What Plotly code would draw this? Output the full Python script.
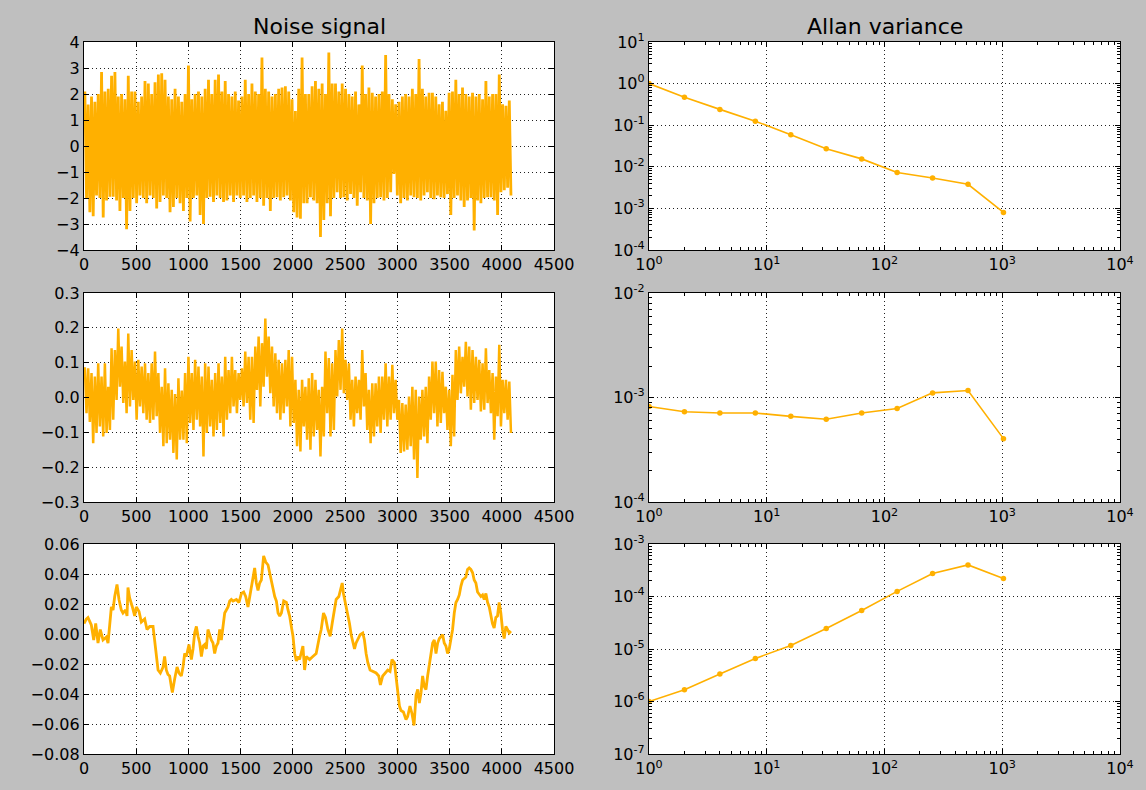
import numpy as np
import plotly.graph_objects as go

# ---------------------------------------------------------------
# Data
# ---------------------------------------------------------------
# Noise signals: per 32-sample block, the upper and lower excursion
BLOCK = 32

white_hi = [2.1, 1.6, 1.9, 1.7, 2.0, 2.85, 2.1, 2.2, 2.7, 2.85,
            1.9, 2.0, 1.8, 2.7, 2.1, 2.1, 1.7, 1.9, 2.5, 2.4,
            2.0, 2.45, 2.75, 2.8, 2.55, 1.9, 1.8, 2.2, 1.9, 1.7,
            2.0, 3.1, 1.8, 2.0, 2.1, 1.9, 2.2, 2.55, 2.0, 2.55,
            2.75, 2.1, 2.5, 2.0, 1.9, 2.1, 1.75, 1.9, 2.55, 2.0,
            2.4, 2.1, 2.0, 3.4, 2.2, 2.1, 1.9, 2.0, 2.2, 2.25,
            2.3, 2.1, 1.8, 1.35, 2.2, 3.4, 2.0, 2.0, 2.3, 2.5,
            2.2, 2.4, 2.0, 3.6, 2.4, 2.4, 2.1, 2.4, 2.2, 2.0,
            1.9, 2.1, 1.6, 3.1, 2.0, 2.25, 2.05, 1.9, 2.0, 2.1,
            3.5, 2.0, 1.8, 1.6, 1.7, 1.9, 2.0, 1.9, 2.2, 2.0,
            3.35, 2.2, 1.9, 2.05, 2.05, 1.9, 1.6, 1.7, 1.35, 2.05,
            2.1, 2.55, 2.0, 2.25, 2.0, 1.9, 2.05, 1.9, 2.0, 1.8,
            2.5, 1.9, 2.0, 2.0, 2.75, 1.6, 1.55, 1.75]
white_lo = [-2.0, -2.55, -2.7, -1.9, -2.0, -2.75, -2.1, -1.95, -1.95, -2.1,
            -2.5, -2.0, -3.2, -2.5, -2.0, -2.2, -1.9, -2.0, -2.2, -1.9,
            -2.0, -2.4, -2.15, -1.9, -2.0, -2.55, -2.35, -2.0, -2.2, -2.5,
            -2.0, -2.9, -2.0, -1.9, -2.65, -3.0, -2.0, -1.95, -2.15, -1.9,
            -2.0, -2.15, -2.1, -1.9, -2.15, -1.9, -2.0, -1.9, -2.15, -2.0,
            -1.9, -2.15, -2.0, -2.3, -2.0, -2.5, -2.0, -1.97, -2.1, -1.97,
            -1.9, -2.1, -2.55, -2.75, -2.8, -2.2, -2.2, -1.97, -2.1, -2.2,
            -3.5, -2.85, -2.2, -2.7, -2.0, -1.78, -2.0, -1.97, -2.1, -1.85,
            -2.0, -2.3, -1.78, -2.0, -2.1, -3.0, -2.2, -2.0, -1.97, -2.1,
            -2.0, -1.78, -1.08, -1.9, -2.2, -2.0, -2.1, -1.9, -1.97, -2.0,
            -2.1, -1.9, -1.78, -2.0, -2.05, -1.9, -1.97, -2.0, -1.85, -2.65,
            -2.0, -1.9, -2.1, -2.35, -2.1, -2.0, -3.25, -2.1, -2.2, -2.0,
            -1.97, -1.97, -2.1, -2.65, -1.78, -1.7, -1.6, -1.9]

mixed_hi = [0.087, 0.084, 0.07, 0.06, 0.098, 0.06, 0.098, 0.031, 0.141, 0.136,
            0.198, 0.146, 0.103, 0.184, 0.136, 0.103, 0.108, 0.089, 0.098, 0.07,
            0.098, 0.132, 0.07, 0.031, 0.084, 0.041, 0.022, 0.01, 0.055, 0.02,
            0.07, 0.117, 0.07, 0.108, 0.089, 0.06, 0.098, 0.089, 0.051, 0.07,
            0.098, 0.06, 0.117, 0.079, 0.117, 0.079, 0.07, 0.084, 0.132, 0.117,
            0.117, 0.146, 0.175, 0.156, 0.227, 0.175, 0.146, 0.127, 0.108, 0.098,
            0.108, 0.136, 0.117, 0.051, 0.022, 0.051, 0.031, 0.055, 0.07, 0.051,
            0.022, 0.031, 0.132, 0.113, 0.098, 0.136, 0.165, 0.198, 0.108, 0.098,
            0.051, 0.06, 0.051, 0.136, 0.07, 0.022, 0.041, 0.041, 0.06, 0.06,
            0.098, 0.06, 0.094, 0.051, -0.007, -0.016, -0.02, 0.003, 0.031, 0.022,
            0.003, 0.022, 0.031, 0.06, 0.103, 0.103, 0.079, 0.074, 0.031, 0.022,
            0.065, 0.136, 0.146, 0.117, 0.16, 0.146, 0.136, 0.117, 0.108, 0.098,
            0.141, 0.079, 0.07, 0.06, 0.151, 0.051, 0.051, 0.046]
mixed_lo = [-0.045, -0.07, -0.131, -0.102, -0.083, -0.112, -0.102, -0.093, -0.064, -0.007,
            0.031, -0.016, -0.045, -0.026, -0.007, -0.064, -0.026, -0.045, -0.064, -0.073,
            -0.064, -0.054, -0.102, -0.14, -0.131, -0.121, -0.159, -0.178, -0.121, -0.121,
            -0.131, -0.073, -0.093, -0.064, -0.083, -0.169, -0.102, -0.083, -0.112, -0.093,
            -0.073, -0.112, -0.064, -0.045, -0.026, -0.045, -0.007, -0.026, -0.016, -0.064,
            -0.073, 0.022, -0.026, 0.031, 0.06, 0.012, -0.026, -0.045, -0.064, -0.045,
            -0.026, -0.083, -0.073, -0.14, -0.155, -0.083, -0.121, -0.15, -0.112, -0.093,
            -0.169, -0.112, -0.045, -0.112, -0.093, 0.003, 0.022, 0.012, -0.007, -0.064,
            -0.083, -0.045, -0.064, -0.026, -0.093, -0.131, -0.112, -0.083, -0.102, -0.064,
            -0.083, -0.064, -0.045, -0.064, -0.159, -0.155, -0.15, -0.14, -0.178, -0.231,
            -0.121, -0.112, -0.131, -0.064, -0.045, -0.083, -0.073, -0.045, -0.093, -0.14,
            -0.112, -0.007, 0.012, 0.031, 0.003, -0.035, -0.016, -0.007, -0.04, -0.035,
            -0.016, -0.045, -0.121, -0.054, -0.083, -0.045, -0.064, -0.102]

# Random-walk signal: sample index and value
walk_t = [0, 22, 38, 70, 93, 112, 134, 156, 182, 214,
          230, 246, 262, 278, 294, 316, 335, 357, 373, 399,
          412, 421, 437, 463, 485, 501, 527, 549, 581, 603,
          629, 661, 677, 693, 709, 731, 757, 772, 788, 804,
          820, 836, 846, 868, 891, 910, 932, 948, 964, 980,
          1005, 1028, 1044, 1060, 1076, 1092, 1108, 1124, 1140, 1156,
          1171, 1187, 1203, 1219, 1235, 1251, 1267, 1283, 1299, 1315,
          1331, 1347, 1363, 1379, 1395, 1411, 1427, 1459, 1484, 1507,
          1529, 1548, 1570, 1586, 1602, 1618, 1634, 1650, 1666, 1682,
          1698, 1720, 1740, 1762, 1778, 1794, 1810, 1826, 1842, 1858,
          1874, 1890, 1912, 1938, 1953, 1969, 1985, 2001, 2017, 2033,
          2049, 2064, 2096, 2112, 2128, 2160, 2191, 2223, 2255, 2271,
          2293, 2312, 2335, 2357, 2376, 2398, 2414, 2440, 2453, 2472,
          2484, 2503, 2526, 2542, 2558, 2574, 2590, 2605, 2621, 2644,
          2669, 2685, 2701, 2717, 2739, 2765, 2797, 2822, 2838, 2860,
          2886, 2908, 2930, 2949, 2972, 2988, 3004, 3020, 3035, 3058,
          3083, 3099, 3121, 3140, 3160, 3179, 3195, 3211, 3227, 3242,
          3258, 3274, 3290, 3306, 3322, 3338, 3354, 3370, 3386, 3402,
          3434, 3449, 3465, 3481, 3497, 3513, 3529, 3545, 3561, 3577,
          3593, 3609, 3625, 3641, 3656, 3672, 3688, 3704, 3720, 3736,
          3752, 3768, 3784, 3800, 3816, 3832, 3848, 3864, 3880, 3895,
          3911, 3927, 3943, 3959, 3975, 3991, 4007, 4023, 4039, 4055,
          4071, 4087]
walk_v = [0.007, 0.010, 0.011, 0.006, -0.004, 0.007, -0.006, 0.003, -0.004, -0.002,
          -0.006, 0.007, 0.018, 0.016, 0.025, 0.033, 0.023, 0.016, 0.014, 0.016,
          0.012, 0.031, 0.024, 0.018, 0.012, 0.018, 0.015, 0.008, 0.010, 0.003,
          0.005, 0.005, -0.006, -0.015, -0.024, -0.026, -0.022, -0.015, -0.024, -0.027,
          -0.028, -0.035, -0.039, -0.030, -0.022, -0.026, -0.028, -0.022, -0.013, -0.015,
          -0.007, -0.017, -0.010, 0.001, 0.005, -0.0015, -0.006, -0.015, -0.008, -0.007,
          -0.010, 0.003, -0.0015, -0.004, -0.006, -0.013, -0.008, -0.006, 0.003, -0.004,
          0.005, 0.014, 0.016, 0.018, 0.022, 0.023, 0.022, 0.023, 0.021, 0.027,
          0.028, 0.025, 0.018, 0.025, 0.029, 0.038, 0.044, 0.034, 0.029, 0.034,
          0.036, 0.052, 0.048, 0.046, 0.041, 0.034, 0.031, 0.025, 0.022, 0.014,
          0.012, 0.014, 0.022, 0.021, 0.016, 0.012, 0.005, -0.0015, -0.013, -0.018,
          -0.015, -0.017, -0.008, -0.024, -0.015, -0.017, -0.015, -0.013, -0.0015, 0.003,
          0.014, 0.011, 0.003, -0.0015, 0.007, 0.018, 0.023, 0.025, 0.028, 0.034,
          0.027, 0.021, 0.014, 0.007, -0.0005, -0.006, -0.010, -0.006, -0.004, -0.0005,
          0.0007, -0.004, -0.013, -0.019, -0.024, -0.025, -0.026, -0.028, -0.034, -0.028,
          -0.026, -0.024, -0.025, -0.017, -0.019, -0.030, -0.039, -0.048, -0.051, -0.052,
          -0.057, -0.055, -0.048, -0.053, -0.061, -0.041, -0.037, -0.046, -0.039, -0.028,
          -0.035, -0.037, -0.028, -0.020, -0.015, -0.006, -0.004, -0.013, -0.006, -0.003,
          -0.0005, -0.006, -0.008, -0.013, -0.010, -0.004, 0.003, 0.014, 0.021, 0.023,
          0.026, 0.032, 0.036, 0.037, 0.038, 0.043, 0.044, 0.043, 0.041, 0.036,
          0.034, 0.028, 0.026, 0.025, 0.026, 0.023, 0.027, 0.021, 0.018, 0.012,
          0.007, 0.004, 0.011, 0.012, 0.021, 0.014, 0.003, -0.003, 0.005, 0.003,
          0.0007, 0.002]

# Allan variance versus averaging length
taus = [1, 2, 4, 8, 16, 32, 64, 128, 256, 512, 1024]
avar_white = [1.0, 0.47, 0.24, 0.125, 0.059, 0.027, 0.0155, 0.0073, 0.0054, 0.0038, 0.0008]
avar_mixed = [8.2e-4, 7.3e-4, 7.1e-4, 7.1e-4, 6.6e-4, 6.2e-4, 7.1e-4, 7.85e-4, 1.107e-3, 1.166e-3, 4.04e-4]
avar_walk = [1.0e-6, 1.67e-6, 3.33e-6, 6.6e-6, 1.17e-5, 2.45e-5, 5.4e-5, 1.25e-4, 2.75e-4, 4.0e-4, 2.2e-4]

titles = ["Noise signal", "Allan variance"]

# ---------------------------------------------------------------
# Figure
# ---------------------------------------------------------------
W, H = 1146, 790
COLOR = "#ffb000"
FONT = "DejaVu Sans"
col_px = [(84, 554), (649, 1120)]
row_px = [(42, 250), (293, 502), (544, 754)]


def xdom(c):
    return [col_px[c][0] / W, col_px[c][1] / W]


def ydom(r):
    return [1 - row_px[r][1] / H, 1 - row_px[r][0] / H]


def zigzag(hi, lo):
    k = np.arange(len(hi))
    x = np.empty(2 * len(hi))
    y = np.empty(2 * len(hi))
    x[0::2] = BLOCK * k + BLOCK / 4
    x[1::2] = BLOCK * k + 3 * BLOCK / 4
    y[0::2] = hi
    y[1::2] = lo
    return x, y


fig = go.Figure()

# left column: time series
x1, y1 = zigzag(white_hi, white_lo)
x2, y2 = zigzag(mixed_hi, mixed_lo)
fig.add_trace(go.Scatter(x=x1, y=y1, mode="lines",
                         line=dict(color=COLOR, width=2.8),
                         xaxis="x", yaxis="y", hoverinfo="skip"))
fig.add_trace(go.Scatter(x=x2, y=y2, mode="lines",
                         line=dict(color=COLOR, width=2.5),
                         xaxis="x3", yaxis="y3", hoverinfo="skip"))
fig.add_trace(go.Scatter(x=walk_t, y=walk_v, mode="lines",
                         line=dict(color=COLOR, width=2.8),
                         xaxis="x5", yaxis="y5", hoverinfo="skip"))

# right column: Allan variance
for avar, ax in [(avar_white, "2"), (avar_mixed, "4"), (avar_walk, "6")]:
    fig.add_trace(go.Scatter(x=taus, y=avar, mode="lines+markers",
                             line=dict(color=COLOR, width=1.6),
                             marker=dict(color=COLOR, size=5.5),
                             xaxis="x" + ax, yaxis="y" + ax))

axis_common = dict(
    showline=True, linecolor="black", linewidth=1.3, mirror="allticks",
    ticks="inside", ticklen=5, tickwidth=1, tickcolor="black",
    showgrid=True, gridcolor="#222222", gridwidth=1, griddash="1px,3px",
    zeroline=False, automargin=False,
    tickfont=dict(family=FONT, size=16, color="black"),
)

minor_vals = [m * 10 ** e for e in range(-8, 4) for m in range(2, 10)]
log_minor = dict(tickmode="array", tickvals=minor_vals, ticks="inside",
                 ticklen=2.5, tickcolor="black", showgrid=False)


def pow_ticks(lo, hi):
    vals = [10.0 ** e for e in range(lo, hi + 1)]
    text = ["10<sup>%d</sup>" % e for e in range(lo, hi + 1)]
    return vals, text


layout_axes = {}
lin_y = [dict(range=[-4, 4], dtick=1, tickformat="d"),
         dict(range=[-0.3, 0.3], dtick=0.1, tickformat=".1f"),
         dict(range=[-0.08, 0.06], dtick=0.02, tickformat=".2f")]
log_y = [(-4, 1), (-4, -2), (-7, -3)]

for r in range(3):
    # left
    i = 2 * r + 1
    xs = "" if i == 1 else str(i)
    layout_axes["xaxis" + xs] = dict(axis_common, domain=xdom(0), anchor="y" + xs,
                                     range=[0, 4500], tick0=0, dtick=500)
    layout_axes["yaxis" + xs] = dict(axis_common, domain=ydom(r), anchor="x" + xs,
                                     tick0=0, **lin_y[r])
    # right
    j = 2 * r + 2
    js = str(j)
    xv, xt = pow_ticks(0, 4)
    yv, yt = pow_ticks(*log_y[r])
    layout_axes["xaxis" + js] = dict(axis_common, domain=xdom(1), anchor="y" + js,
                                     type="log", range=[0, 4], tickmode="array",
                                     tickvals=xv, ticktext=xt, minor=log_minor)
    layout_axes["yaxis" + js] = dict(axis_common, domain=ydom(r), anchor="x" + js,
                                     type="log", range=list(log_y[r]), tickmode="array",
                                     tickvals=yv, ticktext=yt, minor=log_minor)

annotations = []
for c in range(2):
    annotations.append(dict(
        text=titles[c], xref="paper", yref="paper",
        x=sum(xdom(c)) / 2, y=ydom(0)[1], xanchor="center", yanchor="bottom",
        yshift=1, showarrow=False, font=dict(family=FONT, size=22, color="black")))

fig.update_layout(
    width=W, height=H,
    margin=dict(l=0, r=0, t=0, b=0, pad=0, autoexpand=False),
    paper_bgcolor="#bfbfbf", plot_bgcolor="white",
    showlegend=False, annotations=annotations,
    font=dict(family=FONT, size=16, color="black"),
    **layout_axes,
)

fig.write_html("out.html")
